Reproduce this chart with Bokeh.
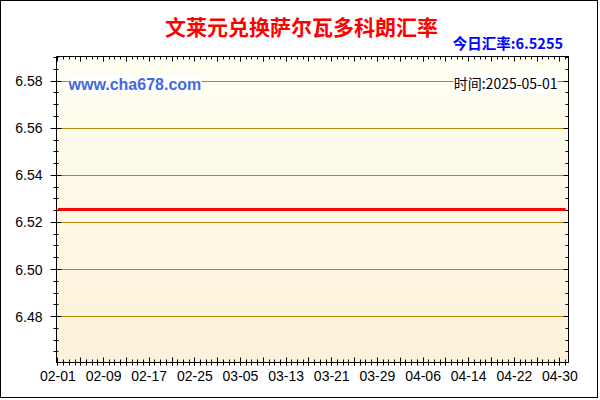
import numpy as np
import pandas as pd
from bokeh.plotting import figure
from bokeh.models import Range1d, FixedTicker, LinearAxis, Label, ColumnDataSource, Title
from bokeh.embed import file_html
from bokeh.resources import INLINE

# ---- data ----
title_text = "文莱元兑换萨尔瓦多科朗汇率"
today_text = "今日汇率:6.5255"
site_text = "www.cha678.com"
time_text = "时间:2025-05-01"

dates = ["2025-02-01", "2025-05-01"]
rates = [6.5255, 6.5255]

xtick_labels = ["02-01", "02-09", "02-17", "02-25", "03-05", "03-13",
                "03-21", "03-29", "04-06", "04-14", "04-22", "04-30"]
ytick_values = [6.48, 6.50, 6.52, 6.54, 6.56, 6.58]
ytick_labels = ["6.48", "6.50", "6.52", "6.54", "6.56", "6.58"]

# ---- derived ----
start = pd.Timestamp(dates[0])
xd = [(pd.Timestamp(d) - start).days for d in dates]
label_pos = [(pd.Timestamp("2025-" + s) - start).days for s in xtick_labels]
last_day = xd[-1]

x0, x1 = -0.25, last_day + 0.5
y0, y1 = 6.4605, 6.5905

W, H = 598, 398
ML, MR, MT, MB = 55, 31, 55, 37
FW, FH = W - ML - MR, H - MT - MB
PAGE_OFF = 1  # border


def px(page_x):
    return x0 + (page_x - PAGE_OFF - ML) / FW * (x1 - x0)


def py(page_y):
    return y1 - (page_y - PAGE_OFF - MT) / FH * (y1 - y0)


p = figure(width=W, height=H, x_range=Range1d(x0, x1), y_range=Range1d(y0, y1),
           output_backend="svg", toolbar_location=None,
           min_border_left=ML, min_border_right=MR, min_border_top=MT, min_border_bottom=MB,
           background_fill_color="#FFFCEB", border_fill_color="white",
           outline_line_color="black")
p.styles = {"border": "1px solid black"}

# background gradient
n = 80
edges = np.linspace(y0, y1, n + 1)
c_bot = np.array([253, 241, 216])
c_top = np.array([255, 255, 243])
cols = []
for i in range(n):
    t = (i + 0.5) / n
    c = (c_bot * (1 - t) + c_top * t).round().astype(int)
    cols.append("#%02x%02x%02x" % tuple(c))
bg = ColumnDataSource(dict(bottom=edges[:-1], top=edges[1:], color=cols))
p.quad(left=x0, right=x1, bottom="bottom", top="top", fill_color="color",
       line_color=None, source=bg, level="image")

# tickers
major_x = list(range(0, last_day, 4))
xticker = FixedTicker(ticks=major_x, minor_ticks=list(range(0, last_day + 1)))
x_over = {t: "" for t in major_x}
for t, s in zip(label_pos, xtick_labels):
    x_over[t] = s
minor_y = [round(6.465 + 0.005 * i, 3) for i in range(26)]
yticker = FixedTicker(ticks=ytick_values, minor_ticks=minor_y)
y_over = {v: s for v, s in zip(ytick_values, ytick_labels)}

xa = p.xaxis[0]
xa.ticker = xticker
xa.major_label_overrides = x_over
xa.major_tick_in, xa.major_tick_out = 5, 3
xa.minor_tick_in, xa.minor_tick_out = 3, 3
xa.major_label_standoff = 5
xa.major_label_text_font = "Liberation Sans"
xa.major_label_text_font_size = "14px"
xa.major_label_text_color = "black"

ya = p.yaxis[0]
ya.ticker = yticker
ya.major_label_overrides = y_over
ya.major_tick_in, ya.major_tick_out = 5, 6
ya.minor_tick_in, ya.minor_tick_out = 2, 3
ya.major_label_standoff = 8
ya.major_label_text_font = "Liberation Sans"
ya.major_label_text_font_size = "14px"
ya.major_label_text_color = "black"

for ax in (xa, ya):
    ax.axis_line_color = "black"
    ax.major_tick_line_color = "black"
    ax.minor_tick_line_color = "black"

top_ax = LinearAxis(ticker=xticker, major_tick_in=5, major_tick_out=0,
                    minor_tick_in=3, minor_tick_out=0,
                    major_label_text_color=None, major_label_standoff=0,
                    axis_line_color="black")
right_ax = LinearAxis(ticker=yticker, major_tick_in=5, major_tick_out=0,
                      minor_tick_in=3, minor_tick_out=0,
                      major_label_text_color=None, major_label_standoff=0,
                      axis_line_color="black")
p.add_layout(top_ax, "above")
p.add_layout(right_ax, "right")

# titles (added after the top axis -> placed above it)
p.add_layout(Title(text=today_text, align="right", offset=5.5,
                   text_font="Noto Sans CJK SC", text_font_size="14.5px",
                   text_font_style="bold", text_color="#0000FF", standoff=8), "above")
p.add_layout(Title(text=title_text, align="left", offset=108.5,
                   text_font="Noto Sans CJK SC", text_font_size="21px",
                   text_font_style="bold", text_color="#FF0000", standoff=-30), "above")

p.xgrid.visible = False
p.ygrid.ticker = yticker
p.ygrid.grid_line_color = "#B8860B"
p.ygrid.grid_line_width = 1

# series
p.line(xd, rates, line_color="#FF0000", line_width=3)

# texts inside the plot area
p.add_layout(Label(x=px(68), y=py(84), text=site_text, text_align="left",
                   text_baseline="middle", text_font="Liberation Sans",
                   text_font_size="16px", text_font_style="bold", text_color="#4169E1",
                   background_fill_color="white"))
p.add_layout(Label(x=px(557), y=py(82), text=time_text, text_align="right",
                   text_baseline="middle", text_font="Noto Sans CJK SC",
                   text_font_size="14px", text_color="black",
                   background_fill_color="white"))

open("out.html", "w").write(file_html(p, INLINE))
